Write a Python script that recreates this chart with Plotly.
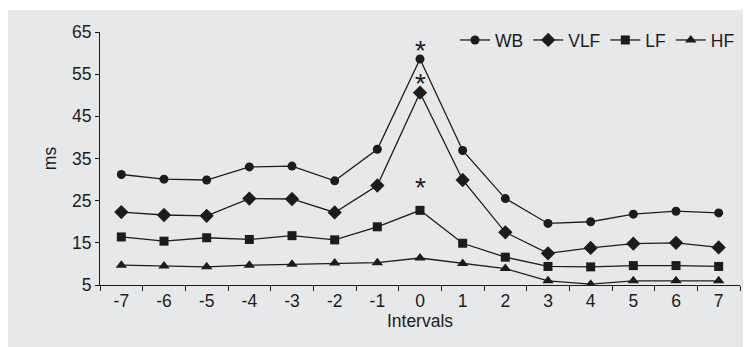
import plotly.graph_objects as go

intervals = ["-7", "-6", "-5", "-4", "-3", "-2", "-1", "0", "1", "2", "3", "4", "5", "6", "7"]
wb = [31.2, 30.1, 29.9, 33.0, 33.2, 29.7, 37.2, 58.6, 36.9, 25.5, 19.6, 20.0, 21.8, 22.5, 22.1]
vlf = [22.3, 21.6, 21.4, 25.5, 25.4, 22.2, 28.6, 50.6, 29.9, 17.5, 12.5, 13.8, 14.8, 15.0, 13.9]
lf = [16.4, 15.4, 16.2, 15.8, 16.7, 15.7, 18.8, 22.7, 14.9, 11.6, 9.4, 9.3, 9.6, 9.6, 9.4]
hf = [9.7, 9.5, 9.3, 9.7, 9.9, 10.2, 10.3, 11.4, 10.1, 8.9, 6.0, 5.2, 6.0, 6.0, 6.0]
series_names = ["WB", "VLF", "LF", "HF"]
signif_at = "0"
signif_y = [61.9, 53.9, 29.2]

ink = "#1c1c1c"
grey = "#e7e8ea"
font = "Liberation Sans, Arial, sans-serif"

fig = go.Figure()
symbols = ["circle", "diamond", "square", "triangle-up"]
sizes = [9, 11, 9, 10]
for name, vals, sym, sz in zip(series_names, [wb, vlf, lf, hf], symbols, sizes):
    fig.add_trace(go.Scatter(
        x=intervals, y=vals, name=name, mode="lines+markers",
        line=dict(color=ink, width=1.3),
        marker=dict(symbol=sym, size=sz, color=ink),
    ))

xi = intervals.index(signif_at)
for yv in signif_y:
    fig.add_annotation(x=xi, y=yv, text="*", showarrow=False, yanchor="middle",
                       yshift=-5, font=dict(size=28, color=ink, family=font))

# thin white strip at the very top
fig.add_shape(type="rect", xref="paper", yref="paper",
              x0=-0.2, x1=1.1, y0=275/253, y1=1.2,
              fillcolor="white", line=dict(width=0), layer="below")

fig.update_layout(
    width=743, height=339,
    margin=dict(l=92, r=11, t=24, b=62, autoexpand=False),
    paper_bgcolor=grey, plot_bgcolor=grey,
    font=dict(family=font, size=17, color=ink),
    showlegend=True,
    legend=dict(orientation="h", x=1.0, xanchor="right", y=0.968, yanchor="middle",
                bgcolor="rgba(0,0,0,0)", font=dict(size=17.5, color=ink),
                itemwidth=30, tracegroupgap=0),
)
fig.update_xaxes(
    type="category", categoryorder="array", categoryarray=intervals,
    range=[-0.5, 14.5], showgrid=False, zeroline=False,
    showline=True, linecolor=ink, linewidth=1.2,
    ticks="outside", tickson="boundaries", ticklen=5, tickcolor=ink, tickwidth=1,
    title=dict(text="Intervals", standoff=3, font=dict(size=17.5)),
    tickfont=dict(size=17.5),
)
fig.update_yaxes(
    range=[5, 65], tick0=5, dtick=10, showgrid=False, zeroline=False,
    showline=True, linecolor=ink, linewidth=1.2,
    ticks="outside", ticklen=4, tickcolor=ink, tickwidth=1,
    title=dict(text="ms", standoff=10, font=dict(size=17.5)),
    tickfont=dict(size=17.5),
)

fig.write_html("out.html")
